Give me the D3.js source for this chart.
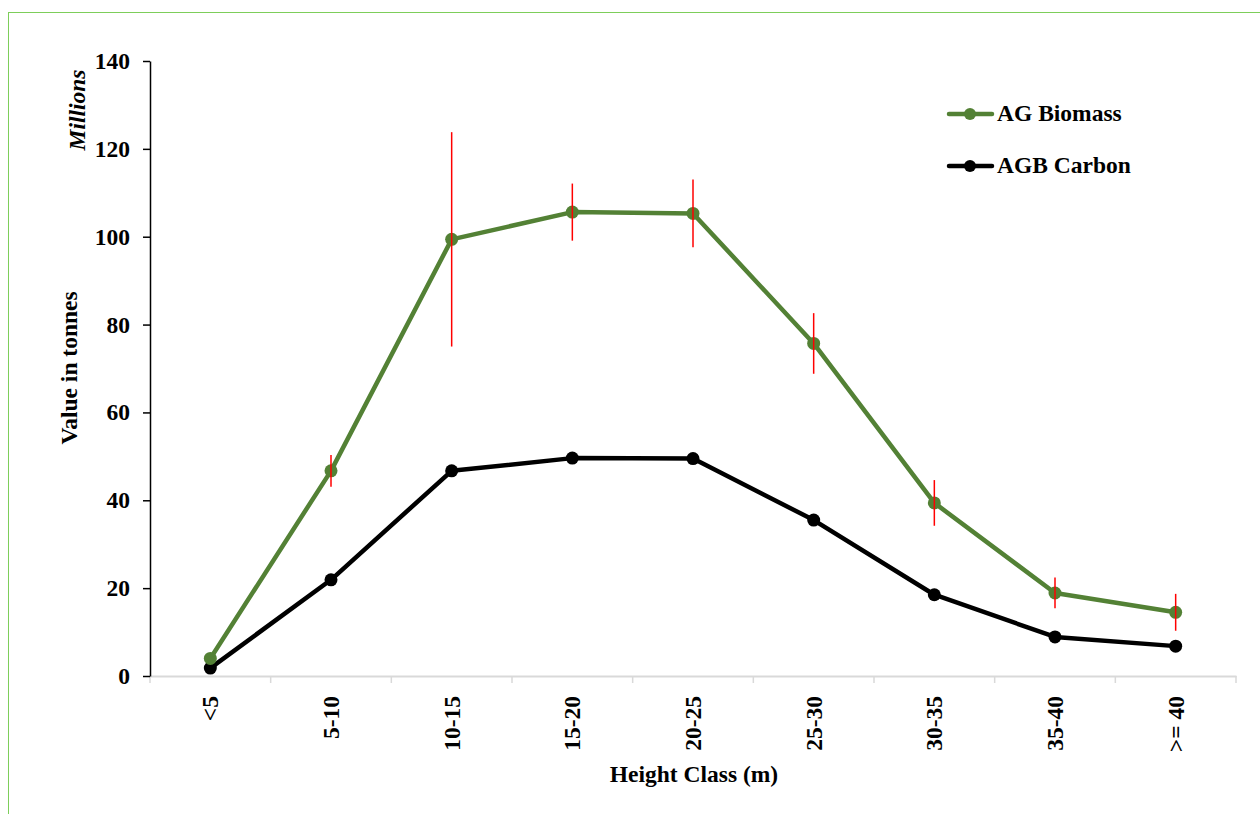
<!DOCTYPE html>
<html><head><meta charset="utf-8">
<script src="https://cdn.jsdelivr.net/npm/d3@7/dist/d3.min.js"></script>
<style>
html,body{margin:0;padding:0;background:#fff;}
svg text{font-family:"Liberation Serif","Times New Roman",serif;font-weight:bold;fill:#000;}
</style></head>
<body><svg id="c" width="1260" height="814"></svg>
<script>
const categories = ["<5","5-10","10-15","15-20","20-25","25-30","30-35","35-40",">= 40"];
const agBiomass = [4.0, 46.7, 99.4, 105.6, 105.3, 75.7, 39.4, 18.9, 14.5];
const agbCarbon = [1.8, 21.9, 46.7, 49.6, 49.5, 35.5, 18.5, 8.9, 6.8];
const biomassError = [0, 3.6, 24.4, 6.5, 7.7, 6.9, 5.2, 3.5, 4.2];
const yTicks = [0, 20, 40, 60, 80, 100, 120, 140];
const seriesNames = ["AG Biomass", "AGB Carbon"];

const FS = 23.5;
const svg = d3.select("#c");
const m = {left:150, right:1236, top:61, bottom:676};

svg.append("rect").attr("x",8.5).attr("y",12.5).attr("width",1300).attr("height",900)
  .attr("fill","none").attr("stroke","#7dce5a").attr("stroke-width",1);

const x = d3.scaleBand().domain(categories).range([m.left, m.right]);
const y = d3.scaleLinear().domain([0,140]).range([m.bottom, m.top]);

// x axis
const xa = svg.append("g").attr("transform",`translate(0,${m.bottom})`)
  .call(d3.axisBottom(x).tickSize(0).tickFormat(""));
xa.select(".domain").attr("stroke","#d9d9d9").attr("stroke-width",2);
const bounds = categories.map(c=>x(c)).concat([m.right]);
svg.append("g").selectAll("line").data(bounds).join("line")
  .attr("x1",d=>d).attr("x2",d=>d).attr("y1",m.bottom).attr("y2",m.bottom+7)
  .attr("stroke","#d9d9d9").attr("stroke-width",1.5);
svg.append("g").selectAll("text").data(categories).join("text")
  .attr("transform",d=>`translate(${x(d)+x.bandwidth()/2+8},${m.bottom+20}) rotate(-90)`)
  .attr("text-anchor","end").attr("font-size",FS).text(d=>d);

// y axis
const ya = svg.append("g").attr("transform",`translate(${m.left},0)`)
  .call(d3.axisLeft(y).tickValues(yTicks).tickSize(7).tickPadding(13).tickSizeOuter(0));
ya.select(".domain").attr("stroke","#000").attr("stroke-width",1.5);
ya.selectAll(".tick line").attr("stroke","#000").attr("stroke-width",1.5);
ya.selectAll(".tick text").attr("font-size",FS).attr("font-family","Liberation Serif, serif").attr("font-weight","bold");

// titles
svg.append("text").attr("transform","translate(77,368) rotate(-90)").attr("text-anchor","middle")
  .attr("font-size",FS).text("Value in tonnes");
svg.append("text").attr("transform","translate(85,110) rotate(-90)").attr("text-anchor","middle")
  .attr("font-size",FS).attr("font-style","italic").text("Millions");
svg.append("text").attr("x",694).attr("y",782).attr("text-anchor","middle")
  .attr("font-size",FS).text("Height Class (m)");

const cx = d => x(d)+x.bandwidth()/2;
const line = d3.line().x((d,i)=>cx(categories[i])).y(d=>y(d));

const colors = ["#538135","#000000"];
const data = [agBiomass, agbCarbon];

[1,0].forEach(s=>{
  svg.append("path").datum(data[s]).attr("d",line).attr("fill","none")
    .attr("stroke",colors[s]).attr("stroke-width",4.5).attr("stroke-linejoin","round");
  svg.append("g").selectAll("circle").data(data[s]).join("circle")
    .attr("cx",(d,i)=>cx(categories[i])).attr("cy",d=>y(d)).attr("r",6.5).attr("fill",colors[s]);
});

// error bars
const errData = categories.map((c,i)=>({c, v:agBiomass[i], e:biomassError[i]})).filter(d=>d.e>0);
svg.append("g").selectAll("line").data(errData).join("line")
  .attr("x1",d=>cx(d.c)).attr("x2",d=>cx(d.c))
  .attr("y1",d=>y(d.v+d.e)).attr("y2",d=>y(d.v-d.e))
  .attr("stroke","#ff0000").attr("stroke-width",1.5);

// legend
const lg = svg.append("g");
seriesNames.forEach((n,i)=>{
  const yy = 114 + i*52;
  lg.append("line").attr("x1",949).attr("x2",992).attr("y1",yy).attr("y2",yy)
    .attr("stroke",colors[i]).attr("stroke-width",4.5).attr("stroke-linecap","round");
  lg.append("circle").attr("cx",970).attr("cy",yy).attr("r",6).attr("fill",colors[i]);
  lg.append("text").attr("x",997).attr("y",yy+7).attr("font-size",FS).text(n);
});
</script></body></html>
